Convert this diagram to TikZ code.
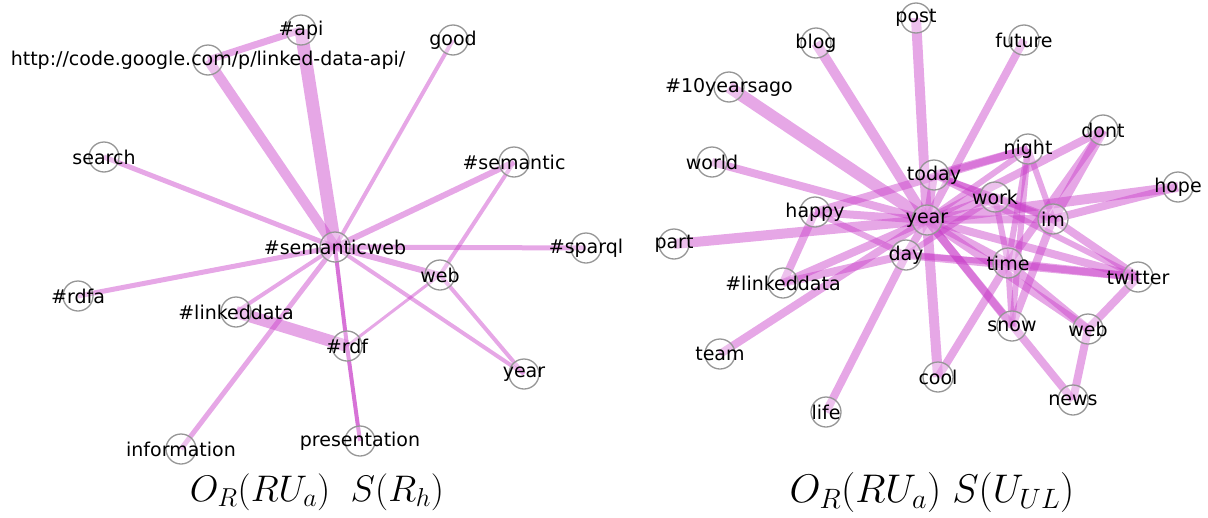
\RequirePackage{fix-cm}
\documentclass[tikz,border=0pt]{standalone}
\usepackage{fontspec}
\newfontfamily\dv{DejaVu Sans}
\pgfdeclarelayer{bg}
\pgfsetlayers{bg,main}
\definecolor{edgec}{RGB}{200,60,200}
\definecolor{ringc}{RGB}{150,150,150}
\tikzset{
  vert/.style={circle,draw=ringc,line width=1.3pt,fill=white,fill opacity=0.3,minimum size=30pt,inner sep=0pt},
  lbl/.style={font=\dv\fontsize{19}{22}\selectfont,text=black,inner sep=0pt,fill opacity=1,text opacity=1},
  ed/.style={draw=edgec,draw opacity=0.45,line width=#1},
  ed/.default=5pt,
  dk/.style={draw=edgec,draw opacity=0.72,line width=#1},
  captxt/.style={font=\fontsize{#1}{#1}\selectfont,inner sep=0pt}
}
\newcommand{\vx}[3]{\node[vert,label={[lbl]center:#3}] (#1) at (#2) {};}
\begin{document}
\begin{tikzpicture}[x=1pt,y=-1pt]
\useasboundingbox (0,0) rectangle (1208,517);
% ---------- left graph ----------
\vx{api}{301,30}{\#api}
\vx{http}{208,60}{http://code.google.com/p/linked-data-api/}
\vx{good}{453,40}{good}
\vx{search}{104,157}{search}
\vx{semantic}{514,162}{\#semantic}
\vx{sw}{335,247}{\#semanticweb}
\vx{sparql}{586,248}{\#sparql}
\vx{lweb}{440,275}{web}
\vx{rdfa}{78,296}{\#rdfa}
\vx{lld}{236,312}{\#linkeddata}
\vx{rdf}{347,346}{\#rdf}
\vx{lyear}{524,374}{year}
\vx{info}{181,449}{information}
\vx{pres}{360,441}{presentation}
\node[captxt=37] (capL) at (317,492) {$O_R(RU_a)\;\;S(R_h)$};
\begin{pgfonlayer}{bg}
\draw[ed=7pt] (api.center) -- (http.center);
\draw[ed=13pt] (api.center) -- (sw.center);
\draw[ed=10pt] (http.center) -- (sw.center);
\draw[ed=4pt] (good.center) -- (sw.center);
\draw[ed=5pt] (search.center) -- (sw.center);
\draw[ed=6pt] (semantic.center) -- (sw.center);
\draw[ed=4pt] (semantic.center) -- (lweb.center);
\draw[ed=5pt] (sparql.center) -- (sw.center);
\draw[ed=6pt] (lweb.center) -- (sw.center);
\draw[ed=4pt] (lweb.center) -- (lyear.center);
\draw[ed=4pt] (sw.center) -- (lyear.center);
\draw[ed=3pt] (lweb.center) -- (rdf.center);
\draw[ed=5pt] (rdfa.center) -- (sw.center);
\draw[ed=4pt] (lld.center) -- (sw.center);
\draw[ed=12pt] (lld.center) -- (rdf.center);
\draw[ed=5pt] (info.center) -- (sw.center);
\draw[dk=4pt] (sw.center) -- (rdf.center);
\draw[dk=4pt] (rdf.center) -- (pres.center);
\end{pgfonlayer}
% ---------- right graph ----------
\vx{post}{916,18}{post}
\vx{blog}{816,43}{blog}
\vx{future}{1024,40}{future}
\vx{tenya}{729,87}{\#10yearsago}
\vx{world}{712,162}{world}
\vx{dont}{1103,130}{dont}
\vx{night}{1028,149}{night}
\vx{today}{934,175}{today}
\vx{hope}{1178,187}{hope}
\vx{work}{995,197}{work}
\vx{happy}{815,212}{happy}
\vx{year}{927,220}{year}
\vx{im}{1053,219}{im}
\vx{part}{674,244}{part}
\vx{day}{906,255}{day}
\vx{time}{1008,263}{time}
\vx{rld}{783,283}{\#linkeddata}
\vx{twitter}{1138,277}{twitter}
\vx{snow}{1012,326}{snow}
\vx{rweb}{1088,329}{web}
\vx{team}{720,354}{team}
\vx{cool}{938,377}{cool}
\vx{life}{826,412}{life}
\vx{news}{1073,400}{news}
\node[captxt=40] (capR) at (932,492) {$O_R(RU_a)\;S(U_{UL})$};
\begin{pgfonlayer}{bg}
\draw[ed=10pt] (year.center) -- (post.center);
\draw[ed=10pt] (year.center) -- (blog.center);
\draw[ed=8pt] (year.center) -- (future.center);
\draw[ed=12pt] (year.center) -- (tenya.center);
\draw[ed=8pt] (year.center) -- (world.center);
\draw[ed=10pt] (year.center) -- (part.center);
\draw[ed=8pt] (year.center) -- (happy.center);
\draw[ed=8pt] (year.center) -- (today.center);
\draw[ed=8pt] (year.center) -- (day.center);
\draw[ed=8pt] (year.center) -- (rld.center);
\draw[ed=8pt] (year.center) -- (team.center);
\draw[ed=10pt] (year.center) -- (cool.center);
\draw[ed=8pt] (year.center) -- (snow.center);
\draw[ed=8pt] (year.center) -- (news.center);
\draw[ed=8pt] (year.center) -- (rweb.center);
\draw[ed=8pt] (year.center) -- (twitter.center);
\draw[ed=8pt] (year.center) -- (im.center);
\draw[ed=8pt] (year.center) -- (work.center);
\draw[ed=10pt] (year.center) -- (hope.center);
\draw[ed=8pt] (year.center) -- (dont.center);
\draw[ed=8pt] (year.center) -- (time.center);
\draw[ed=6pt] (year.center) -- (night.center);
\draw[ed=8pt] (happy.center) -- (night.center);
\draw[ed=8pt] (happy.center) -- (rld.center);
\draw[ed=6pt] (happy.center) -- (day.center);
\draw[ed=8pt] (rld.center) -- (day.center);
\draw[ed=8pt] (life.center) -- (day.center);
\draw[ed=8pt] (day.center) -- (twitter.center);
\draw[ed=6pt] (day.center) -- (time.center);
\draw[ed=6pt] (day.center) -- (work.center);
\draw[ed=8pt] (today.center) -- (night.center);
\draw[ed=6pt] (today.center) -- (twitter.center);
\draw[ed=6pt] (today.center) -- (im.center);
\draw[ed=6pt] (today.center) -- (work.center);
\draw[ed=6pt] (night.center) -- (im.center);
\draw[ed=6pt] (night.center) -- (time.center);
\draw[ed=6pt] (night.center) -- (snow.center);
\draw[ed=10pt] (dont.center) -- (im.center);
\draw[ed=8pt] (dont.center) -- (time.center);
\draw[ed=8pt] (work.center) -- (im.center);
\draw[ed=6pt] (work.center) -- (time.center);
\draw[ed=8pt] (im.center) -- (snow.center);
\draw[ed=8pt] (im.center) -- (twitter.center);
\draw[ed=8pt] (im.center) -- (hope.center);
\draw[ed=8pt] (time.center) -- (twitter.center);
\draw[ed=8pt] (time.center) -- (rweb.center);
\draw[ed=6pt] (time.center) -- (snow.center);
\draw[ed=8pt] (time.center) -- (cool.center);
\draw[ed=8pt] (twitter.center) -- (rweb.center);
\draw[ed=8pt] (rweb.center) -- (news.center);
\end{pgfonlayer}
\end{tikzpicture}
\end{document}
